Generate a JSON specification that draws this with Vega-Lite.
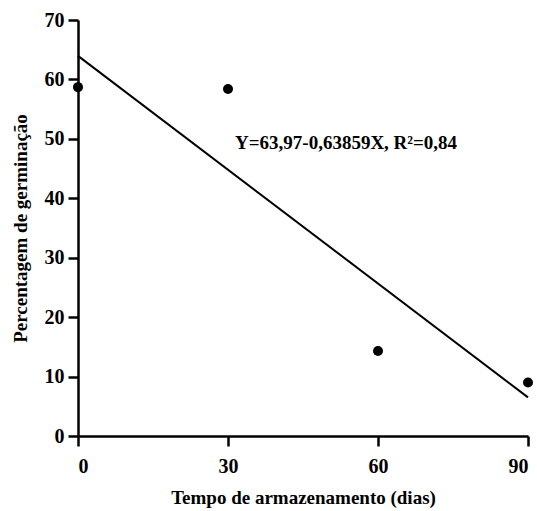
{
  "$schema": "https://vega.github.io/schema/vega-lite/v6.json",
  "width": 450,
  "height": 416,
  "autosize": "none",
  "padding": {"left": 78, "top": 20, "right": 9, "bottom": 75},
  "background": "white",
  "config": {
    "view": {"stroke": null},
    "font": "Liberation Serif",
    "axis": {
      "grid": false,
      "domainColor": "black",
      "domainWidth": 2.5,
      "tickColor": "black",
      "tickWidth": 2.5,
      "tickSize": 10,
      "labelColor": "black",
      "labelFont": "Liberation Serif",
      "labelFontWeight": "bold",
      "labelFontSize": 20,
      "titleColor": "black",
      "titleFont": "Liberation Serif",
      "titleFontWeight": "bold",
      "titleFontSize": 19
    }
  },
  "datasets": {
    "obs": [
      {"dias": 0, "germ": 58.7},
      {"dias": 30, "germ": 58.4},
      {"dias": 60, "germ": 14.3},
      {"dias": 90, "germ": 9.0}
    ],
    "fit": [
      {"dias": 0, "germ": 63.97},
      {"dias": 90, "germ": 6.5}
    ],
    "label": [
      {"dias": 31.4, "germ": 49.3, "text": "Y=63,97-0,63859X, R²=0,84"}
    ]
  },
  "layer": [
    {
      "data": {"name": "fit"},
      "mark": {"type": "line", "color": "black", "strokeWidth": 2},
      "encoding": {
        "x": {
          "field": "dias", "type": "quantitative",
          "scale": {"domain": [0, 90], "nice": false},
          "axis": {"values": [0, 30, 60, 90], "labelPadding": 10, "title": "Tempo de armazenamento (dias)", "titlePadding": 12}
        },
        "y": {
          "field": "germ", "type": "quantitative",
          "scale": {"domain": [0, 70], "nice": false},
          "axis": {"values": [0, 10, 20, 30, 40, 50, 60, 70], "labelPadding": 4, "title": "Percentagem de germinação", "titlePadding": 14}
        }
      }
    },
    {
      "data": {"name": "obs"},
      "mark": {"type": "point", "filled": true, "color": "black", "opacity": 1, "size": 100},
      "encoding": {
        "x": {"field": "dias", "type": "quantitative"},
        "y": {"field": "germ", "type": "quantitative"}
      }
    },
    {
      "data": {"name": "label"},
      "mark": {"type": "text", "align": "left", "baseline": "middle", "font": "Liberation Serif", "fontWeight": "bold", "fontSize": 19, "color": "black"},
      "encoding": {
        "x": {"field": "dias", "type": "quantitative"},
        "y": {"field": "germ", "type": "quantitative"},
        "text": {"field": "text"}
      }
    }
  ]
}
